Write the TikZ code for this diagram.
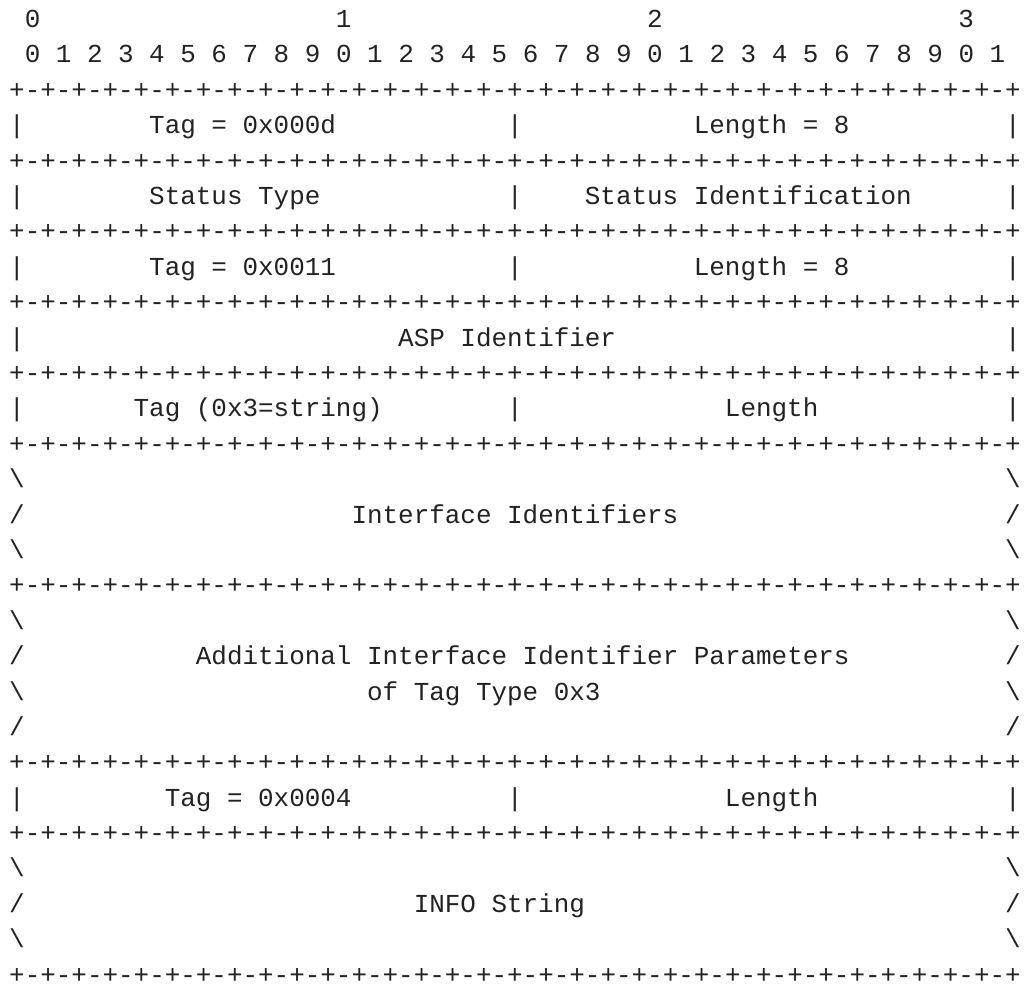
\documentclass[tikz,border=0pt]{standalone}
\usepackage{fontspec}
\usepackage{xcolor}
\usepackage{tikz}
\newfontfamily\rfcmono{Liberation Mono}
\definecolor{ink}{HTML}{222222}

\begin{document}
\begin{tikzpicture}[
    x=7.781pt, y=-17.7pt,
    mono/.style={
        anchor=base west, inner sep=0pt, outer sep=0pt,
        text=ink, font=\fontsize{12.97pt}{15pt}\selectfont\rfcmono
    },
]

\useasboundingbox (-0.591,-0.777) rectangle (65.22,27.13);

% Bit scale
\foreach \d/\c in {0/1,1/21,2/41,3/61}
    \node[mono] (dec\d) at (\c,0) {\d};
\node[mono] (bits) at (1,1)
    {0 1 2 3 4 5 6 7 8 9 0 1 2 3 4 5 6 7 8 9 0 1 2 3 4 5 6 7 8 9 0 1};

% Separators
\foreach \r in {2,4,6,8,10,12,16,21,23,27}
    \node[mono] (sep\r) at (0,\r)
        {+-+-+-+-+-+-+-+-+-+-+-+-+-+-+-+-+-+-+-+-+-+-+-+-+-+-+-+-+-+-+-+-+};

% Field borders
\foreach \r in {3,5,7,9,11,22} {
    \node[mono] (lb\r) at (0,\r) {|};
    \node[mono] (rb\r) at (64,\r) {|};
}
\foreach \r in {3,5,7,11,22}
    \node[mono] (mb\r) at (32,\r) {|};

% Variable length borders
\foreach \r in {13,15,17,19,24,26} {
    \node[mono] (lb\r) at (0,\r) {\textbackslash};
    \node[mono] (rb\r) at (64,\r) {\textbackslash};
}
\foreach \r in {14,18,20,25} {
    \node[mono] (lb\r) at (0,\r) {/};
    \node[mono] (rb\r) at (64,\r) {/};
}

%% Fields
\node[mono] (tagst)  at (9,3)  {Tag = 0x000d};
\node[mono] (lenst)  at (44,3) {Length = 8};
\node[mono] (sttype) at (9,5)  {Status Type};
\node[mono] (stid)   at (37,5) {Status Identification};
\node[mono] (tagasp) at (9,7)  {Tag = 0x0011};
\node[mono] (lenasp) at (44,7) {Length = 8};
\node[mono] (aspid)  at (25,9) {ASP Identifier};
\node[mono] (tagif)  at (8,11) {Tag (0x3=string)};
\node[mono] (lenif)  at (46,11) {Length};
\node[mono] (ifid)   at (22,14) {Interface Identifiers};
\node[mono] (addif)  at (12,18) {Additional Interface Identifier Parameters};
\node[mono] (addty)  at (23,19) {of Tag Type 0x3};
\node[mono] (taginf) at (10,22) {Tag = 0x0004};
\node[mono] (leninf) at (46,22) {Length};
\node[mono] (info)   at (26,25) {INFO String};

\end{tikzpicture}
\end{document}
